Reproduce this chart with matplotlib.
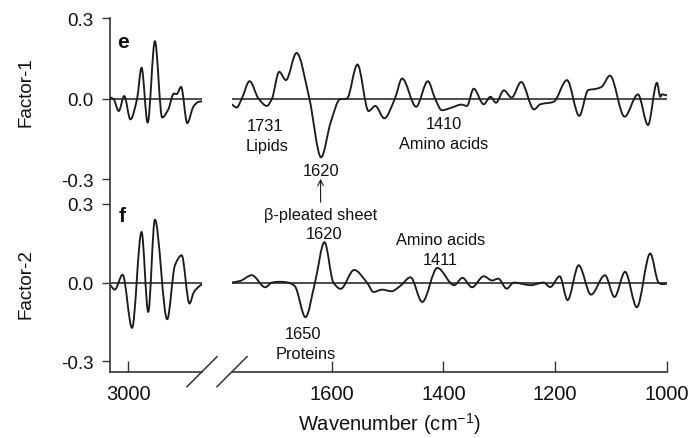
import numpy as np
import matplotlib
matplotlib.use("Agg")
import matplotlib.pyplot as plt
from matplotlib.path import Path
from matplotlib.patches import PathPatch
from matplotlib.lines import Line2D

plt.rcParams['font.family'] = ['Liberation Sans', 'DejaVu Sans']
plt.rcParams['mathtext.default'] = 'regular'

# ---- factor loadings (wavenumber in cm-1, loading) ----
e_ch_wn = [3032, 3026, 3017, 3007, 2996, 2984, 2976, 2965, 2952, 2939, 2928,
           2918, 2913, 2905, 2894, 2883, 2874, 2868]
e_ch_val = [0.005, -0.002, -0.046, 0.010, -0.077, 0.0, 0.115, -0.089, 0.214,
            -0.070, -0.040, 0.019, 0.017, 0.044, -0.091, -0.030, -0.012, -0.010]

e_fp_wn = [1779, 1770, 1761, 1747, 1731, 1716, 1707, 1694, 1682, 1663, 1640,
           1619, 1602, 1585, 1573, 1554, 1534, 1522, 1506, 1487, 1474, 1449,
           1428, 1415, 1403, 1385, 1368, 1358, 1346, 1328, 1316, 1306, 1292,
           1278, 1261, 1238, 1227, 1203, 1179, 1157, 1141, 1126, 1117, 1102,
           1076, 1052, 1034, 1018, 1012, 1009, 1000]
e_fp_val = [-0.021, -0.033, 0.0, 0.065, 0.0, -0.027, 0.0, 0.100, 0.069, 0.170,
            0.0, -0.218, -0.089, -0.002, 0.0, 0.127, -0.046, -0.027, -0.073,
            0.0, 0.075, -0.030, 0.065, 0.0, -0.043, -0.033, -0.022, -0.027,
            0.037, -0.021, 0.007, -0.015, 0.031, 0.004, 0.062, -0.040, -0.021,
            -0.012, 0.069, -0.064, 0.032, 0.037, 0.044, 0.086, -0.067, 0.016,
            -0.098, 0.059, 0.007, 0.016, 0.012]

f_ch_wn = [3032, 3024, 3010, 2993, 2976, 2964, 2952, 2930, 2916, 2904, 2890,
           2882, 2870, 2868]
f_ch_val = [-0.010, -0.027, 0.030, -0.173, 0.193, -0.112, 0.240, -0.140, 0.066,
            0.104, -0.080, -0.036, -0.010, -0.007]

f_fp_wn = [1779, 1764, 1743, 1719, 1707, 1693, 1678, 1666, 1647, 1630, 1613,
           1597, 1584, 1560, 1537, 1525, 1510, 1493, 1478, 1459, 1438, 1411,
           1381, 1366, 1349, 1328, 1313, 1302, 1287, 1274, 1244, 1221, 1209,
           1192, 1178, 1158, 1136, 1111, 1094, 1075, 1054, 1030, 1015, 1009,
           1000]
f_fp_val = [0.0, 0.006, 0.028, -0.018, 0.0, 0.003, 0.0, -0.014, -0.132, 0.0,
            0.154, 0.0, -0.024, 0.048, 0.0, -0.036, -0.027, -0.033, -0.014,
            0.020, -0.074, 0.056, -0.010, 0.018, -0.018, 0.024, 0.008, 0.015,
            -0.023, 0.0, -0.010, 0.0, -0.017, 0.024, -0.067, 0.066, -0.046,
            0.028, -0.055, 0.041, -0.094, 0.111, 0.0, -0.006, -0.004]

y_ticks = [-0.3, 0.0, 0.3]
y_ticklabels = ['-0.3', '0.0', '0.3']
ch_ticks = [3000]
fp_ticks = [1600, 1400, 1200, 1000]

INK = '#1c1c1c'
AX = '#333333'
TXT = '#111111'

W, H = 696, 439
fig = plt.figure(figsize=(W / 100, H / 100), dpi=100)


def px_axes(x0, y0, x1, y1):
    """Axes from pixel box (top-left origin)."""
    return fig.add_axes([x0 / W, 1 - y1 / H, (x1 - x0) / W, (y1 - y0) / H])


def smooth_path(x, y):
    """Cubic Hermite path through the readings (shape-preserving tangents)."""
    x = np.asarray(x, float)
    y = np.asarray(y, float)
    h = np.diff(x)
    d = np.diff(y) / h
    m = np.zeros_like(y)
    for i in range(1, len(x) - 1):
        if d[i - 1] * d[i] <= 0:
            m[i] = 0.0
        else:
            w1 = 2 * h[i] + h[i - 1]
            w2 = h[i] + 2 * h[i - 1]
            m[i] = (w1 + w2) / (w1 / d[i - 1] + w2 / d[i])
    m[0], m[-1] = d[0], d[-1]
    verts = [(x[0], y[0])]
    codes = [Path.MOVETO]
    for i in range(len(x) - 1):
        dx = h[i] / 3
        verts += [(x[i] + dx, y[i] + m[i] * dx),
                  (x[i + 1] - dx, y[i + 1] - m[i + 1] * dx),
                  (x[i + 1], y[i + 1])]
        codes += [Path.CURVE4] * 3
    return Path(verts, codes)


def draw_trace(ax, wn, val):
    ax.add_patch(PathPatch(smooth_path(wn, val), fill=False, ec=INK, lw=1.35,
                           joinstyle='round', capstyle='round'))
    ax.axhline(0, color=INK, lw=1.1)


# pixel layout
XL0, XL1 = 109.5, 202
XR0, XR1 = 232, 667
TOP0, TOP1 = 19, 195
BOT0, BOT1 = 196, 372.7

ax_e_ch = px_axes(XL0, TOP0, XL1, TOP1)
ax_e_fp = px_axes(XR0, TOP0, XR1, TOP1)
ax_f_ch = px_axes(XL0, BOT0, XL1, BOT1)
ax_f_fp = px_axes(XR0, BOT0, XR1, BOT1)

ylim_e = (-0.3545, 0.3)
ylim_f = (-0.340, 0.334)
ch_lim = (3033.5, 2867.5)
fp_lim = (1778.5, 1000)

for ax, ylim, xlim in [(ax_e_ch, ylim_e, ch_lim), (ax_e_fp, ylim_e, fp_lim),
                       (ax_f_ch, ylim_f, ch_lim), (ax_f_fp, ylim_f, fp_lim)]:
    ax.set_xlim(*xlim)
    ax.set_ylim(*ylim)
    ax.patch.set_visible(False)
    for s in ax.spines.values():
        s.set_visible(False)
        s.set_color(AX)
        s.set_linewidth(1.2)
    ax.tick_params(colors=AX, width=1.0)

draw_trace(ax_e_ch, e_ch_wn, e_ch_val)
draw_trace(ax_e_fp, e_fp_wn, e_fp_val)
draw_trace(ax_f_ch, f_ch_wn, f_ch_val)
draw_trace(ax_f_fp, f_fp_wn, f_fp_val)

# y axes on the left of the C-H segments
for ax in (ax_e_ch, ax_f_ch):
    ax.spines['left'].set_visible(True)
    ax.set_yticks(y_ticks)
    ax.set_yticklabels(y_ticklabels)
    ax.tick_params(axis='y', direction='out', length=5.5, pad=6,
                   labelsize=13.5, labelcolor=TXT)
ax_e_fp.set_yticks([])
ax_f_fp.set_yticks([])

# x axes
for ax in (ax_e_ch, ax_e_fp):
    ax.set_xticks([])
ax_f_ch.spines['bottom'].set_visible(True)
ax_f_fp.spines['bottom'].set_visible(True)
ax_f_ch.set_xticks(ch_ticks)
ax_f_fp.set_xticks(fp_ticks)
for ax in (ax_f_ch, ax_f_fp):
    ax.tick_params(axis='x', direction='in', length=8, pad=9,
                   labelsize=14.5, labelcolor=TXT)

# axis break marks at the gap of the wavenumber axis
ybase = H - BOT1
for xc in (XL1, XR0):
    fig.add_artist(Line2D([xc - 15, xc + 15], [ybase - 15, ybase + 15],
                          transform=None, color=AX, lw=1.1))

# panel letters
ax_e_ch.text(3009, 0.211, 'e', ha='center', va='center', fontsize=15,
             fontweight='bold', color=TXT)
ax_f_ch.text(3011, 0.254, 'f', ha='center', va='center', fontsize=15,
             fontweight='bold', color=TXT)

# band annotations
lab = dict(ha='center', va='center', fontsize=11.8, color=TXT)
ax_e_fp.text(1720, -0.100, '1731', **lab)
ax_e_fp.text(1716, -0.176, 'Lipids', **lab)
ax_e_fp.text(1620, -0.268, '1620', **lab)
ax_e_fp.text(1399, -0.094, '1410', **lab)
ax_e_fp.text(1399, -0.168, 'Amino acids', **lab)
ax_e_fp.annotate('', xy=(1620, -0.298), xytext=(1620, -0.385),
                 arrowprops=dict(arrowstyle='->', lw=0.8, color=INK,
                                 shrinkA=0, shrinkB=0),
                 annotation_clip=False)

ax_f_fp.text(1620, 0.258, 'β-pleated sheet', **lab)
ax_f_fp.text(1614, 0.189, '1620', **lab)
ax_f_fp.text(1406, 0.163, 'Amino acids', **lab)
ax_f_fp.text(1406, 0.087, '1411', **lab)
ax_f_fp.text(1651, -0.193, '1650', **lab)
ax_f_fp.text(1646, -0.269, 'Proteins', **lab)

# axis titles
ylab = dict(rotation=90, ha='center', va='center', fontsize=13.5, color=TXT,
            family=['Liberation Sans Narrow', 'Liberation Sans'])
fig.text(26 / W, 1 - 92 / H, 'Factor-1', **ylab)
fig.text(26 / W, 1 - 284 / H, 'Factor-2', **ylab)
fig.text(389 / W, 1 - 424 / H, 'Wavenumber (cm$^{-1}$)', ha='center',
         va='center', fontsize=14.5, color=TXT)

fig.savefig('out.png', dpi=100)
